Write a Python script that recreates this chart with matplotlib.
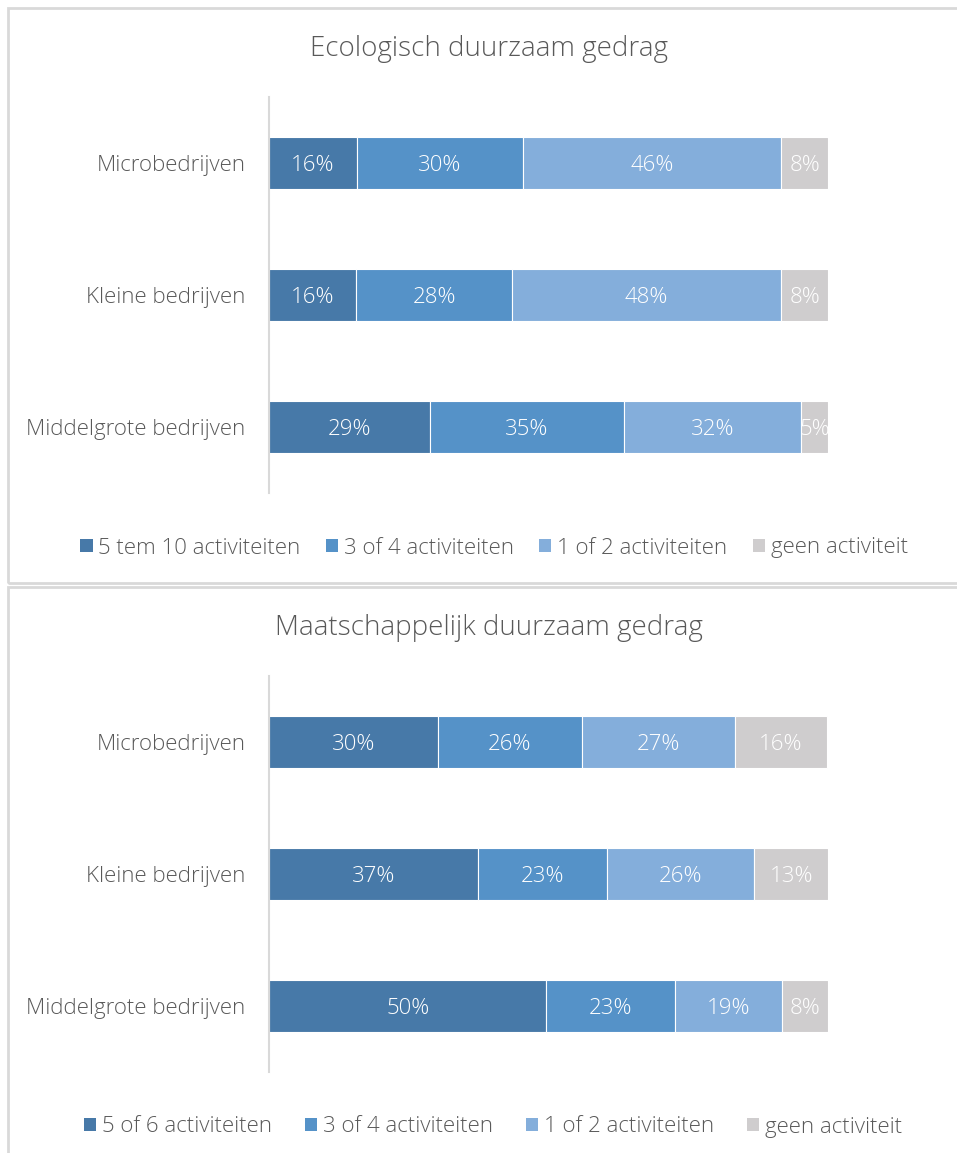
import matplotlib
matplotlib.use("Agg")
import matplotlib.pyplot as plt
from matplotlib.patches import Rectangle, Patch

plt.rcParams['font.family'] = ['Open Sans', 'DejaVu Sans']

categories = ["Microbedrijven", "Kleine bedrijven", "Middelgrote bedrijven"]

eco_title = "Ecologisch duurzaam gedrag"
eco_series = ["5 tem 10 activiteiten", "3 of 4 activiteiten", "1 of 2 activiteiten", "geen activiteit"]
eco_5_10 = [15.7, 15.6, 28.8]
eco_3_4 = [29.7, 27.9, 34.7]
eco_1_2 = [46.2, 48.1, 31.7]
eco_geen = [8.4, 8.4, 4.8]

soc_title = "Maatschappelijk duurzaam gedrag"
soc_series = ["5 of 6 activiteiten", "3 of 4 activiteiten", "1 of 2 activiteiten", "geen activiteit"]
soc_5_6 = [30.2, 37.3, 49.6]
soc_3_4 = [25.8, 23.1, 23.1]
soc_1_2 = [27.4, 26.4, 19.0]
soc_geen = [16.4, 13.2, 8.3]

colors = ["#4779A8", "#5592C8", "#84AEDB", "#CFCDCE"]
text_col = "#595959"

W, H = 957, 1153
fig = plt.figure(figsize=(W / 100, H / 100), dpi=100)

def fx(px):
    return px / W

def fy(py):
    return 1 - py / H

# panel borders
for (x0, y0, x1, y1) in [(8, 8, 962, 583), (8, 587, 962, 1160)]:
    fig.patches.append(Rectangle((fx(x0), fy(y1)), fx(x1 - x0), (y1 - y0) / H,
                                 transform=fig.transFigure, fill=False,
                                 edgecolor="#D9D9D9", linewidth=2))

def panel(top_px, title, series_names, data, legend_x, colsp):
    ax_top = top_px + 89
    ax_bot = top_px + 485
    ax = fig.add_axes([fx(269), fy(ax_bot), fx(828 - 269), (ax_bot - ax_top) / H])
    n = len(categories)
    ypos = list(range(n))
    left = [0.0] * n
    handles = []
    for vals, name, c in zip(data, series_names, colors):
        ax.barh(ypos, vals, left=left, height=0.4, color=c,
                edgecolor="white", linewidth=0.8, label=name)
        for yi, (l, v) in enumerate(zip(left, vals)):
            ax.text(l + v / 2, yi, f"{v:.0f}%", ha="center", va="center_baseline",
                    color="white", fontsize=16, fontweight="light")
        left = [a + b for a, b in zip(left, vals)]
        handles.append(Patch(facecolor=c, edgecolor="none", label=name))
    ax.set_xlim(0, 100)
    ax.set_ylim(n - 0.5, -0.5)
    ax.set_yticks(ypos)
    ax.set_yticklabels(categories, fontsize=16, color=text_col, fontweight="light")
    ax.tick_params(axis="y", length=0, pad=17)
    ax.set_xticks([])
    for s in ["top", "right", "bottom"]:
        ax.spines[s].set_visible(False)
    ax.spines["left"].set_color("#D9D9D9")
    ax.spines["left"].set_linewidth(1.5)
    fig.text(fx(489), fy(top_px + 41), title, ha="center", va="center",
             fontsize=20, color=text_col, fontweight="light")
    fig.legend(handles=handles, loc="center", bbox_to_anchor=(legend_x, fy(top_px + 540)),
               ncol=4, frameon=False, handlelength=0.55, handleheight=0.55,
               handletextpad=0.25, columnspacing=colsp, labelcolor=text_col,
               prop={'weight': 'light', 'size': 16})
    return ax

panel(8, eco_title, eco_series, [eco_5_10, eco_3_4, eco_1_2, eco_geen], fx(494), 1.15)
panel(587, soc_title, soc_series, [soc_5_6, soc_3_4, soc_1_2, soc_geen], fx(493), 1.5)

fig.savefig("out.png", dpi=100)
